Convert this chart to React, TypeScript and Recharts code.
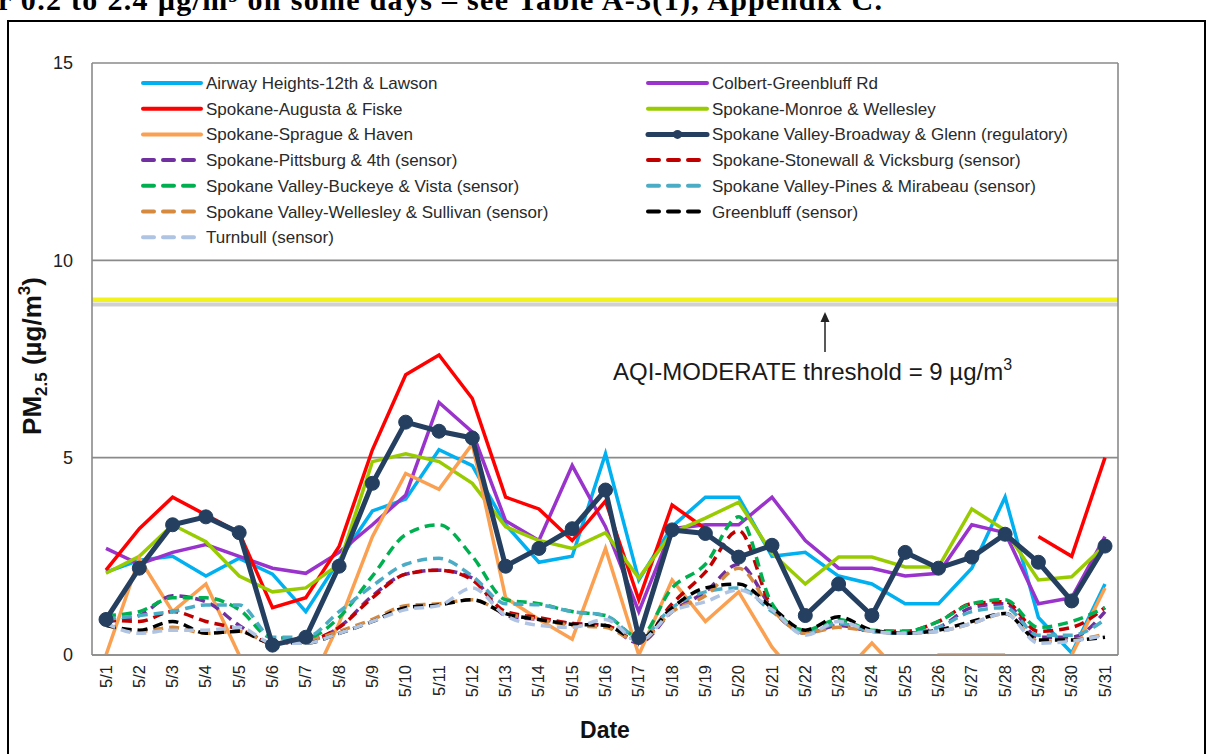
import React from "react";
import { CartesianGrid, Line, LineChart, ReferenceLine, XAxis, YAxis } from "recharts";

const FONT = '"Liberation Sans", Arial, sans-serif';

const days = [
  "5/1", "5/2", "5/3", "5/4", "5/5", "5/6", "5/7", "5/8", "5/9", "5/10",
  "5/11", "5/12", "5/13", "5/14", "5/15", "5/16", "5/17", "5/18", "5/19", "5/20",
  "5/21", "5/22", "5/23", "5/24", "5/25", "5/26", "5/27", "5/28", "5/29", "5/30", "5/31",
];

const yTicks = [0, 5, 10, 15];

// PM2.5 daily means (µg/m3)
const airway = [2.1, 2.4, 2.5, 2.0, 2.45, 2.05, 1.1, 2.4, 3.65, 3.95, 5.2, 4.8, 3.3, 2.35, 2.5, 5.1, 1.9, 3.25, 4.0, 4.0, 2.5, 2.6, 2.0, 1.8, 1.3, 1.3, 2.2, 4.0, 0.95, 0.05, 1.8];
const augusta = [2.15, 3.2, 4.0, 3.55, 3.1, 1.2, 1.45, 2.75, 5.2, 7.1, 7.6, 6.5, 4.0, 3.7, 2.9, 3.9, 1.4, 3.8, 3.2, null, null, null, null, null, null, null, null, null, 3.0, 2.5, 5.0];
const sprague = [0, 2.45, 1.1, 1.8, 0, -1, -1, 0.8, 3.0, 4.6, 4.2, 5.35, 1.45, 0.9, 0.4, 2.7, 0, 1.9, 0.85, 1.6, 0.2, -0.8, -0.6, 0.3, -0.6, 0, 0, 0, null, 0, 1.7];
const pittsburg = [0.85, 1.0, 1.5, 1.35, 0.75, 0.3, 0.35, 0.7, 1.5, 2.05, 2.15, 1.95, 1.0, 0.9, 0.8, 0.75, 0.3, 1.1, 1.6, 2.3, 1.2, 0.55, 0.75, 0.6, 0.55, 0.7, 1.2, 1.3, 0.45, 0.45, 1.1];
const buckeye = [1.0, 1.1, 1.45, 1.45, 1.15, 0.43, 0.43, 0.95, 2.0, 3.05, 3.3, 2.5, 1.4, 1.3, 1.1, 1.0, 0.45, 1.7, 2.3, 3.5, 1.3, 0.63, 0.9, 0.63, 0.6, 0.85, 1.3, 1.4, 0.7, 0.85, 1.2];
const wellesley = [0.75, 0.6, 0.7, 0.55, 0.6, 0.3, 0.35, 0.6, 0.9, 1.25, 1.3, 1.4, 1.05, 0.9, 0.75, 0.7, 0.35, 1.1, 1.5, 2.2, 1.15, 0.55, 0.7, 0.6, 0.55, 0.6, 0.8, 1.05, 0.35, 0.38, 0.53];
const turnbull = [0.8, 0.55, 0.63, 0.63, 0.7, 0.3, 0.3, 0.55, 0.85, 1.15, 1.25, 1.7, 1.0, 0.75, 0.7, 0.9, 0.35, 1.1, 1.35, 1.65, 1.15, 0.5, 0.85, 0.6, 0.55, 0.6, 0.8, 1.05, 0.3, 0.35, 0.5];
const colbert = [2.7, 2.3, 2.6, 2.8, 2.5, 2.2, 2.07, 2.6, 3.3, 4.05, 6.4, 5.65, 3.4, 2.9, 4.8, 3.25, 1.1, 3.2, 3.3, 3.3, 4.0, 2.9, 2.2, 2.2, 2.0, 2.07, 3.3, 3.1, 1.3, 1.45, 3.0];
const monroe = [2.07, 2.5, 3.3, 2.87, 2.0, 1.6, 1.7, 2.3, 4.9, 5.1, 4.9, 4.35, 3.25, 2.9, 2.7, 3.1, 1.95, 3.1, 3.47, 3.87, 2.58, 1.8, 2.48, 2.48, 2.23, 2.23, 3.7, 3.16, 1.9, 1.98, 2.78];
const broadway = [0.9, 2.2, 3.3, 3.5, 3.1, 0.25, 0.45, 2.25, 4.35, 5.9, 5.67, 5.5, 2.25, 2.7, 3.2, 4.18, 0.45, 3.17, 3.08, 2.48, 2.78, 1.0, 1.8, 1.0, 2.6, 2.2, 2.48, 3.06, 2.35, 1.37, 2.76];
const stonewall = [0.9, 0.85, 1.1, 0.85, 0.65, 0.3, 0.35, 0.7, 1.45, 2.05, 2.15, 1.9, 1.1, 0.95, 0.8, 0.75, 0.35, 1.3, 2.1, 3.15, 1.2, 0.6, 0.8, 0.6, 0.6, 0.85, 1.3, 1.35, 0.6, 0.7, 1.2];
const pines = [0.9, 1.0, 1.1, 1.27, 1.27, 0.45, 0.45, 1.1, 1.75, 2.3, 2.45, 2.0, 1.3, 1.27, 1.1, 1.0, 0.43, 1.2, 1.6, 1.7, 1.1, 0.55, 0.8, 0.6, 0.55, 0.7, 1.1, 1.2, 0.5, 0.5, 0.9];
const greenbluff = [0.75, 0.63, 0.85, 0.55, 0.6, 0.3, 0.3, 0.55, 0.85, 1.2, 1.27, 1.4, 1.05, 0.9, 0.78, 0.75, 0.38, 1.2, 1.7, 1.8, 1.2, 0.63, 0.97, 0.63, 0.55, 0.63, 0.85, 1.05, 0.38, 0.38, 0.45];

type Site = { key: string; name: string; color: string; dashed?: boolean; markers?: boolean; values: (number | null)[] };

// legend order (two columns, row by row)
const sites: Site[] = [
  { key: "airway", name: "Airway Heights-12th & Lawson", color: "#00B0F0", values: airway },
  { key: "colbert", name: "Colbert-Greenbluff Rd", color: "#9933CC", values: colbert },
  { key: "augusta", name: "Spokane-Augusta & Fiske", color: "#FF0000", values: augusta },
  { key: "monroe", name: "Spokane-Monroe & Wellesley", color: "#99CC00", values: monroe },
  { key: "sprague", name: "Spokane-Sprague & Haven", color: "#FAA050", values: sprague },
  { key: "broadway", name: "Spokane Valley-Broadway & Glenn (regulatory)", color: "#243F60", markers: true, values: broadway },
  { key: "pittsburg", name: "Spokane-Pittsburg & 4th (sensor)", color: "#7030A0", dashed: true, values: pittsburg },
  { key: "stonewall", name: "Spokane-Stonewall & Vicksburg (sensor)", color: "#C00000", dashed: true, values: stonewall },
  { key: "buckeye", name: "Spokane Valley-Buckeye & Vista (sensor)", color: "#00B050", dashed: true, values: buckeye },
  { key: "pines", name: "Spokane Valley-Pines & Mirabeau (sensor)", color: "#4BACC6", dashed: true, values: pines },
  { key: "wellesley", name: "Spokane Valley-Wellesley & Sullivan (sensor)", color: "#D58A3F", dashed: true, values: wellesley },
  { key: "greenbluff", name: "Greenbluff (sensor)", color: "#000000", dashed: true, values: greenbluff },
  { key: "turnbull", name: "Turnbull (sensor)", color: "#AFC3E3", dashed: true, values: turnbull },
];

const data = days.map((day, i) => {
  const row: Record<string, string | number | null> = { day };
  sites.forEach((s) => (row[s.key] = s.values[i]));
  return row;
});

// draw solid lines, then sensors, regulatory monitor on top
const drawOrder = [
  ...sites.filter((s) => !s.dashed && !s.markers),
  ...sites.filter((s) => s.dashed),
  ...sites.filter((s) => s.markers),
];

function DayTick({ x, y, payload }: any) {
  return (
    <text
      x={x}
      y={y}
      dy={5.5}
      textAnchor="end"
      transform={`rotate(-90 ${x} ${y})`}
      fontSize={16.5}
      fontFamily={FONT}
      fill="#222"
    >
      {payload.value}
    </text>
  );
}

function YLabel() {
  return (
    <text
      x={41}
      y={356}
      textAnchor="middle"
      transform="rotate(-90 41 356)"
      fontFamily={FONT}
      fontWeight="bold"
      fontSize={26}
      fill="#111"
    >
      PM
      <tspan fontSize={17} dy={6}>2.5</tspan>
      <tspan dy={-6}> (µg/m</tspan>
      <tspan fontSize={17} dy={-11}>3</tspan>
      <tspan dy={11}>)</tspan>
    </text>
  );
}

function LegendOverlay() {
  return (
    <svg width={1207} height={260} style={{ position: "absolute", left: 0, top: 0 }}>
      {sites.map((s, i) => {
        const col = i % 2;
        const row = Math.floor(i / 2);
        const y = 83 + row * 25.7;
        const x1 = col === 0 ? 143 : 648;
        const x2 = col === 0 ? 201 : 707;
        return (
          <g key={s.key}>
            <line
              x1={x1}
              x2={x2}
              y1={y}
              y2={y}
              stroke={s.color}
              strokeWidth={s.markers ? 5 : 4}
              strokeLinecap="round"
              strokeDasharray={s.dashed ? "11 9" : undefined}
            />
            {s.markers && <circle cx={(x1 + x2) / 2} cy={y} r={4.5} fill={s.color} />}
            <text x={x2 + 5} y={y + 6} fontSize={17} fontFamily={FONT} fill="#2a2a2a">
              {s.name}
            </text>
          </g>
        );
      })}
    </svg>
  );
}

function Annotation() {
  return (
    <svg width={1207} height={754} style={{ position: "absolute", left: 0, top: 0, pointerEvents: "none" }}>
      <line x1={825} x2={825} y1={352} y2={320} stroke="#222" strokeWidth={1.5} />
      <polygon points="825,312 820.5,322 829.5,322" fill="#222" />
      <text x={613} y={380} fontSize={24} fontFamily={FONT} fill="#1a1a1a">
        AQI-MODERATE threshold = 9 µg/m
        <tspan fontSize={16} dy={-10}>3</tspan>
      </text>
    </svg>
  );
}

export default function App() {
  return (
    <div style={{ position: "absolute", left: 0, top: 0, width: 1207, height: 754, overflow: "hidden", background: "#fff" }}>
      <div
        style={{
          position: "absolute",
          left: -2,
          top: -17,
          whiteSpace: "nowrap",
          fontFamily: '"Liberation Serif", "Times New Roman", serif',
          fontWeight: "bold",
          fontSize: 30,
          letterSpacing: 1.3,
          color: "#000",
        }}
      >
        r 0.2 to 2.4 µg/m³ on some days – see Table A-3(1), Appendix C.
      </div>
      <div
        style={{
          position: "absolute",
          left: 7,
          top: 20,
          width: 1195,
          height: 760,
          border: "2px solid #000",
          background: "#fff",
        }}
      />
      <div style={{ position: "absolute", left: 0, top: 0 }}>
        <LineChart width={1207} height={754} data={data} margin={{ top: 63, right: 88, bottom: 0, left: 32 }}>
          <CartesianGrid vertical={false} stroke="#8a8a8a" strokeWidth={1.6} />
          <XAxis
            dataKey="day"
            scale="point"
            padding={{ left: 14, right: 13 }}
            interval={0}
            height={99}
            tick={<DayTick />}
            tickLine={false}
            tickSize={6}
            tickMargin={4}
            axisLine={{ stroke: "#8a8a8a", strokeWidth: 1.6 }}
            label={{
              value: "Date",
              position: "insideBottom",
              offset: 16,
              fontSize: 23,
              fontWeight: "bold",
              fontFamily: FONT,
              fill: "#111",
            }}
          />
          <YAxis
            domain={[0, 15]}
            ticks={yTicks}
            allowDataOverflow
            width={60}
            tickLine={false}
            tickSize={5}
            tickMargin={14}
            tick={{ fontSize: 18, fontFamily: FONT, fill: "#222" }}
            axisLine={{ stroke: "#8a8a8a", strokeWidth: 1.6 }}
            label={<YLabel />}
          />
          <YAxis
            yAxisId="frame"
            orientation="right"
            domain={[0, 15]}
            width={1}
            tick={false}
            tickLine={false}
            axisLine={{ stroke: "#8a8a8a", strokeWidth: 1.6 }}
          />
          <ReferenceLine y={8.88} stroke="#c4c4c4" strokeWidth={4} strokeOpacity={0.8} />
          <ReferenceLine y={9} stroke="#F2F21C" strokeWidth={4.5} />
          {drawOrder.map((s) => (
            <Line
              key={s.key}
              dataKey={s.key}
              name={s.name}
              type={s.dashed ? "monotone" : "linear"}
              stroke={s.color}
              strokeWidth={s.markers ? 5 : 3.5}
              strokeDasharray={s.dashed ? "10 6" : undefined}
              dot={s.markers ? { r: 7, fill: s.color, stroke: s.color, strokeWidth: 1 } : false}
              activeDot={false}
              isAnimationActive={false}
            />
          ))}
        </LineChart>
      </div>
      <LegendOverlay />
      <Annotation />
    </div>
  );
}
